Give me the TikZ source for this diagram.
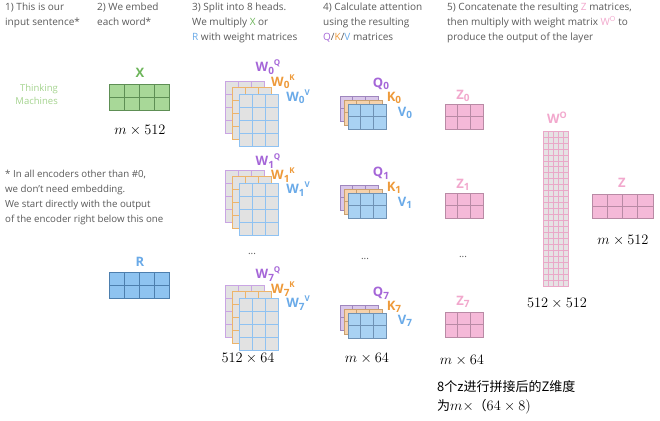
\documentclass[tikz,border=0pt]{standalone}
\usepackage[no-math]{fontspec}
\setmainfont{Open Sans}
\newfontfamily\cjk{Noto Sans CJK SC}
\definecolor{hdr}{HTML}{5A5A5A}
\definecolor{gLab}{HTML}{6DB55A}
\definecolor{gFill}{HTML}{A8D898}
\definecolor{gLine}{HTML}{5E8F55}
\definecolor{tm}{HTML}{A5D48F}
\definecolor{bLab}{HTML}{6AAAE8}
\definecolor{bFill}{HTML}{8EC3F0}
\definecolor{bLine}{HTML}{4D7FAE}
\definecolor{pLab}{HTML}{A566D8}
\definecolor{oLab}{HTML}{EE9A3A}
\definecolor{wFill}{HTML}{E2E2E2}
\definecolor{pEdge}{HTML}{C9A5E3}
\definecolor{oEdge}{HTML}{EDB46A}
\definecolor{bEdge}{HTML}{8FC2F2}
\definecolor{qFill}{HTML}{D9C7EA}
\definecolor{qLine}{HTML}{9F86BE}
\definecolor{kFill}{HTML}{F6D2AC}
\definecolor{kLine}{HTML}{C9A070}
\definecolor{vFill}{HTML}{A9D2F3}
\definecolor{vLine}{HTML}{6F92B5}
\definecolor{zFill}{HTML}{F5B9D8}
\definecolor{zLine}{HTML}{B98AA5}
\definecolor{zLab}{HTML}{F2A8CD}
\definecolor{woLine}{HTML}{EAA8C8}
\definecolor{woFill}{HTML}{E6E2E4}
% x0 y0 cols rows cellw cellh fill line
\newcommand\drawmat[8]{%
  \fill[#7] (#1,#2) rectangle ({#1+#3*#5},{#2+#4*#6});
  \foreach \ii in {1,...,#3}{\draw[#8,line width=0.6pt] ({#1+\ii*#5},#2) -- ({#1+\ii*#5},{#2+#4*#6});}
  \foreach \jj in {1,...,#4}{\draw[#8,line width=0.6pt] (#1,{#2+\jj*#6}) -- ({#1+#3*#5},{#2+\jj*#6});}
  \draw[#8,line width=0.6pt] (#1,#2) rectangle ({#1+#3*#5},{#2+#4*#6});
}
\newcommand\wl[3]{#1\raisebox{-0.22em}{\fontsize{10}{10}\selectfont #2}\raisebox{0.42em}{\fontsize{8}{8}\selectfont #3}}
\newcommand\ql[2]{#1\raisebox{-0.2em}{\fontsize{10}{10}\selectfont #2}}
\tikzset{
  hdrtext/.style={anchor=north west,align=left,text=hdr,font=\fontsize{10}{14.7}\selectfont,inner sep=0pt},
  lab/.style={font=\fontsize{13}{13}\selectfont\bfseries,inner sep=0pt},
  dimtext/.style={font=\fontsize{15}{15}\selectfont,inner sep=0pt,text=black},
  dots/.style={font=\fontsize{10}{10}\selectfont,text=hdr,inner sep=0pt}
}
\begin{document}
\begin{tikzpicture}[x=1pt,y=-1pt]
\useasboundingbox (0,0) rectangle (660,420);
\fill[white] (0,0) rectangle (660,420);
% headers
\node[hdrtext] (h1) at (5,3) {1) This is our\\input sentence*};
\node[hdrtext] (h2) at (97,3) {2) We embed\\each word*};
\node[hdrtext] (h3) at (192,3) {3) Split into 8 heads.\\We multiply \textcolor{gLab}{X} or\\\textcolor{bLab}{R} with weight matrices};
\node[hdrtext] (h4) at (323,3) {4) Calculate attention\\using the resulting\\\textcolor{pLab}{Q}/\textcolor{oLab}{K}/\textcolor{bLab}{V} matrices};
\node[hdrtext] (h5) at (447,3) {5) Concatenate the resulting \textcolor{zLab}{Z} matrices,\\then multiply with weight matrix \textcolor{zLab}{W\textsuperscript{O}} to\\produce the output of the layer};
% input
\node[anchor=east,align=right,text=tm,font=\fontsize{9.5}{13}\selectfont,inner sep=0pt] (tm) at (58,94) {Thinking\\Machines};
\node[lab,text=gLab] (xl) at (140,73) {X};
\drawmat{109}{84}{4}{2}{15}{13}{gFill}{gLine}
\node[dimtext] (d1) at (140,130) {$m\times 512$};
\node[hdrtext,font=\fontsize{9.7}{14.9}\selectfont] (fn) at (5,170) {* In all encoders other than \#0,\\we don’t need embedding.\\We start directly with the output\\of the encoder right below this one};
\node[lab,text=bLab] (rl) at (140,262) {R};
\drawmat{109}{272}{4}{2}{15}{13}{bFill}{bLine}
% W stacks
\foreach \yy/\nm in {81/0,170/1,285/7}{
  \drawmat{225}{\yy}{3}{4}{13}{13}{wFill}{pEdge}
  \drawmat{232}{\yy+6.5}{3}{4}{13}{13}{wFill}{oEdge}
  \drawmat{239}{\yy+13}{3}{4}{13}{13}{wFill}{bEdge}
}
\node[lab,text=pLab] (w0q) at (268,67) {\wl{W}{0}{Q}};
\node[lab,text=oLab] (w0k) at (283,82) {\wl{W}{0}{K}};
\node[lab,text=bLab] (w0v) at (298,97) {\wl{W}{0}{V}};
\node[lab,text=pLab] (w1q) at (268,161) {\wl{W}{1}{Q}};
\node[lab,text=oLab] (w1k) at (283,175) {\wl{W}{1}{K}};
\node[lab,text=bLab] (w1v) at (298,189) {\wl{W}{1}{V}};
\node[dots] (dw) at (252,254) {...};
\node[lab,text=pLab] (w7q) at (268,274) {\wl{W}{7}{Q}};
\node[lab,text=oLab] (w7k) at (283,289) {\wl{W}{7}{K}};
\node[lab,text=bLab] (w7v) at (298,303) {\wl{W}{7}{V}};
\node[dimtext] (d2) at (248,358) {$512\times 64$};
% QKV stacks
\foreach \yy in {96,185,305}{
  \drawmat{340}{\yy}{3}{2}{12.7}{12.5}{qFill}{qLine}
  \drawmat{344}{\yy+4}{3}{2}{12.7}{12.5}{kFill}{kLine}
  \drawmat{348}{\yy+8}{3}{2}{12.7}{12.5}{vFill}{vLine}
}
\node[lab,text=pLab] (q0) at (381,84) {\ql{Q}{0}};
\node[lab,text=oLab] (k0) at (394,98) {\ql{K}{0}};
\node[lab,text=bLab] (v0) at (405,113) {\ql{V}{0}};
\node[lab,text=pLab] (q1) at (381,173) {\ql{Q}{1}};
\node[lab,text=oLab] (k1) at (394,188) {\ql{K}{1}};
\node[lab,text=bLab] (v1) at (405,203) {\ql{V}{1}};
\node[dots] (dq) at (365,259) {...};
\node[lab,text=pLab] (q7) at (381,293) {\ql{Q}{7}};
\node[lab,text=oLab] (k7) at (394,307) {\ql{K}{7}};
\node[lab,text=bLab] (v7) at (405,321) {\ql{V}{7}};
\node[dimtext] (d3) at (367,358) {$m\times 64$};
% Z matrices
\drawmat{445}{104}{3}{2}{12.7}{12.5}{zFill}{zLine}
\drawmat{445}{193}{3}{2}{12.7}{12.5}{zFill}{zLine}
\drawmat{445}{312}{3}{2}{12.7}{12.5}{zFill}{zLine}
\node[lab,text=zLab] (z0) at (463,96) {\ql{Z}{0}};
\node[lab,text=zLab] (z1) at (463,185) {\ql{Z}{1}};
\node[dots] (dz) at (463,257) {...};
\node[lab,text=zLab] (z7) at (463,302) {\ql{Z}{7}};
\node[dimtext] (d4) at (462,360) {$m\times 64$};
% W^O
\drawmat{543}{131}{5}{26}{5}{5.96}{woFill}{woLine}
\node[lab,text=zLab] (wo) at (557,118) {W\raisebox{0.42em}{\fontsize{9}{9}\selectfont O}};
\node[dimtext] (d5) at (557,303) {$512\times 512$};
% Z output
\drawmat{592}{194}{4}{2}{15.25}{12}{zFill}{zLine}
\node[lab,text=zLab] (zl) at (622,183) {Z};
\node[dimtext] (d6) at (623,240) {$m\times 512$};
% note
\node[anchor=north west,align=left,inner sep=0pt,font=\fontsize{13}{19}\selectfont\cjk] (note) at (437,380) {8个z进行拼接后的Z维度\\为{\fontsize{15}{19}\selectfont$m\times$}（{\fontsize{15}{19}\selectfont$64\times 8)$}};
\end{tikzpicture}
\end{document}
